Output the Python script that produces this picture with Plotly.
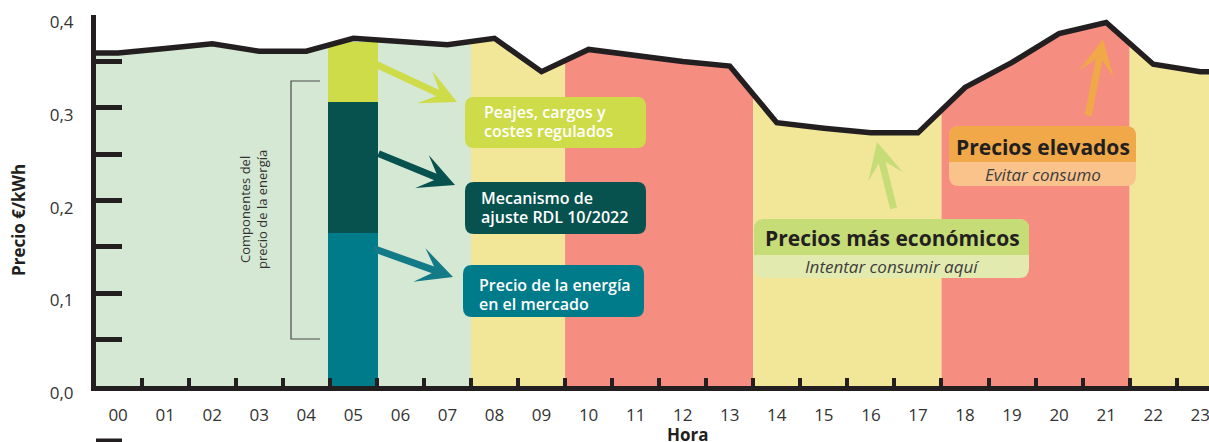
import plotly.graph_objects as go

# ---------------- data ----------------
hours = list(range(24))
hour_labels = [f"{h:02d}" for h in hours]
price = [0.359, 0.364, 0.369, 0.361, 0.361, 0.375, 0.371, 0.368,
         0.375, 0.339, 0.363, 0.356, 0.350, 0.345, 0.284, 0.278,
         0.273, 0.273, 0.322, 0.349, 0.380, 0.392, 0.347, 0.339]

# stacked components of the price at hour 05
comp_hour = 5
comp_names = ["Precio de la energía en el mercado",
              "Mecanismo de ajuste RDL 10/2022",
              "Peajes, cargos y costes regulados"]
comp_values = [0.165, 0.141, 0.065]

# price periods (hour bands)
band_edges = [-0.5, 7.5, 9.5, 13.5, 17.5, 21.5, 23.5]
band_kind = ["valle", "llano", "punta", "llano", "punta", "llano"]

y_ticks = [0.0, 0.1, 0.2, 0.3, 0.4]

# ---------------- style ----------------
W_FIG, H_FIG = 1209, 442
L, R, T, B = 96, 1209, 15, 386          # plot area in pixels
PW, PH = R - L, B - T
X_RANGE = [-0.47, 23.186]
Y_RANGE = [0, 0.4001]
INK = "#231f20"
TXT = "#333333"
FONT = "Open Sans"
band_colors = {"valle": "#d5e8d3", "llano": "#f2e698", "punta": "#f58d80"}
comp_colors = ["#007b8a", "#07524f", "#cddc48"]


def px(xp):
    return (xp - L) / PW


def py(yp):
    return (B - yp) / PH


def rrect(x0, y0, x1, y1, rtl, rtr, rbr, rbl):
    def P(a, b):
        return f"{px(a):.5f},{py(b):.5f}"
    s = f"M{P(x0 + rtl, y0)} L{P(x1 - rtr, y0)} Q{P(x1, y0)} {P(x1, y0 + rtr)} "
    s += f"L{P(x1, y1 - rbr)} Q{P(x1, y1)} {P(x1 - rbr, y1)} "
    s += f"L{P(x0 + rbl, y1)} Q{P(x0, y1)} {P(x0, y1 - rbl)} "
    s += f"L{P(x0, y0 + rtl)} Q{P(x0, y0)} {P(x0 + rtl, y0)} Z"
    return s


fig = go.Figure()

# mask above the price line (white) -> bands appear only under the line
line_x = [band_edges[0]] + hours + [band_edges[-1]]
line_y = [price[0]] + price + [price[-1]]
fig.add_trace(go.Scatter(x=[band_edges[0], band_edges[-1]], y=[Y_RANGE[1]] * 2,
                         mode="lines", line=dict(width=0), hoverinfo="skip",
                         showlegend=False))
fig.add_trace(go.Scatter(x=line_x, y=line_y, mode="lines",
                         line=dict(color=INK, width=5.5),
                         fill="tonexty", fillcolor="white",
                         showlegend=False, hoverinfo="skip"))

# stacked bar of components
for name, val, col in zip(comp_names, comp_values, comp_colors):
    fig.add_trace(go.Bar(x=[comp_hour], y=[val], name=name, width=1.06,
                         marker=dict(color=col, line=dict(width=0)),
                         showlegend=False))

shapes = []
# bands
for i, kind in enumerate(band_kind):
    shapes.append(dict(type="rect", xref="x", yref="y",
                       x0=band_edges[i], x1=band_edges[i + 1],
                       y0=0, y1=Y_RANGE[1], fillcolor=band_colors[kind],
                       line=dict(width=0), layer="below"))

# bracket
shapes.append(dict(type="path", xref="paper", yref="paper",
                   path=f"M{px(320)},{py(81)} L{px(291)},{py(81)} L{px(291)},{py(339)} L{px(320)},{py(339)}",
                   line=dict(color="#4a4a4a", width=1.2)))

# boxes for components
boxes = [
    (465, 97, 646, 148, comp_colors[2], ["Peajes, cargos y", "costes regulados"], 482, [111.5, 130.5]),
    (465, 182, 646, 234, comp_colors[1], ["Mecanismo de", "ajuste RDL 10/2022"], 479, [197.5, 216.5]),
    (463, 265, 644, 317, comp_colors[0], ["Precio de la energía", "en el mercado"], 477, [284.5, 303.5]),
]
annotations = []
for (x0, y0, x1, y1, col, lines, tx, tys) in boxes:
    shapes.append(dict(type="path", xref="paper", yref="paper",
                       path=rrect(x0, y0, x1, y1, 9, 9, 9, 9),
                       fillcolor=col, line=dict(width=0), layer="above"))
    for t, ty in zip(lines, tys):
        annotations.append(dict(xref="paper", yref="paper", x=px(tx), y=py(ty),
                                xanchor="left", yanchor="middle", text=t,
                                showarrow=False,
                                font=dict(family=FONT, size=16, color="white", weight=600)))

# two-part info boxes
info = [
    (754, 219, 1029, 255, 278, "#c6dc76", "#e3eab0",
     "Precios más económicos", "Intentar consumir aquí", 892, 237.5, 266.5),
    (949, 126, 1136, 162, 186, "#f0a848", "#fac38c",
     "Precios elevados", "Evitar consumo", 1043, 146.5, 174),
]
for (x0, y0, x1, ym, y1, c1, c2, t1, t2, cx, ty1, ty2) in info:
    shapes.append(dict(type="path", xref="paper", yref="paper",
                       path=rrect(x0, y0, x1, y1, 10, 10, 10, 10),
                       fillcolor=c2, line=dict(width=0), layer="above"))
    shapes.append(dict(type="path", xref="paper", yref="paper",
                       path=rrect(x0, y0, x1, ym, 10, 10, 0, 0),
                       fillcolor=c1, line=dict(width=0), layer="above"))
    annotations.append(dict(xref="paper", yref="paper", x=px(cx), y=py(ty1),
                            xanchor="center", yanchor="middle", text=f"<b>{t1}</b>",
                            showarrow=False, font=dict(family=FONT, size=21, color=INK)))
    annotations.append(dict(xref="paper", yref="paper", x=px(cx), y=py(ty2),
                            xanchor="center", yanchor="middle", text=f"<i>{t2}</i>",
                            showarrow=False, font=dict(family=FONT, size=17, color="#3d3d3d")))

# arrows (tail -> tip)
arrows = [
    (373, 63, 457, 102, comp_colors[2]),
    (377, 153, 455, 185, comp_colors[1]),
    (372, 248, 453, 277, "#137a88"),
    (894, 210, 877, 142, "#c6dc76"),
    (1088, 117, 1103, 39, "#f0a848"),
]
for (tx, ty, hx, hy, col) in arrows:
    annotations.append(dict(xref="paper", yref="paper", x=px(hx), y=py(hy),
                            ax=tx - hx, ay=ty - hy, axref="pixel", ayref="pixel",
                            text="", showarrow=True, arrowhead=3, arrowwidth=7,
                            arrowsize=0.85, arrowcolor=col, standoff=0))

# rotated texts and axis titles
annotations.append(dict(xref="paper", yref="paper", x=px(254), y=py(210),
                        text="Componentes del<br>precio de la energía", textangle=-90,
                        showarrow=False, xanchor="center", yanchor="middle",
                        font=dict(family=FONT, size=13, color=TXT)))
annotations.append(dict(xref="paper", yref="paper", x=px(18), y=py(220),
                        text="<b>Precio €/kWh</b>", textangle=-90, showarrow=False,
                        xanchor="center", yanchor="middle",
                        font=dict(family=FONT, size=17, color=INK)))
annotations.append(dict(xref="paper", yref="paper", x=px(688), y=py(434),
                        text="<b>Hora</b>", showarrow=False,
                        xanchor="center", yanchor="middle",
                        font=dict(family=FONT, size=17, color=INK)))

# stub of the next panel axis at the very bottom
shapes.append(dict(type="line", xref="paper", yref="paper",
                   x0=px(96), x1=px(122), y0=py(441), y1=py(441),
                   line=dict(color=INK, width=5)))

fig.update_layout(
    width=W_FIG, height=H_FIG,
    margin=dict(l=L, r=W_FIG - R, t=T, b=H_FIG - B, autoexpand=False),
    paper_bgcolor="white", plot_bgcolor="white",
    barmode="stack", bargap=0,
    separators=",.",
    shapes=shapes, annotations=annotations,
    showlegend=False,
    font=dict(family=FONT, color=TXT),
)
fig.update_xaxes(range=X_RANGE, showgrid=False, zeroline=False, automargin=False,
                 showline=True, linewidth=5, linecolor=INK,
                 tickmode="array", tickvals=hours, ticktext=hour_labels,
                 ticks="", tickfont=dict(family=FONT, size=17, color=TXT),
                 ticklabelstandoff=10, ticklabeloverflow="allow",
                 minor=dict(tickmode="array", tickvals=[h + 0.5 for h in hours],
                            ticks="inside", ticklen=8, tickwidth=4, tickcolor=INK,
                            showgrid=False))
fig.update_yaxes(range=Y_RANGE, showgrid=False, zeroline=False, automargin=False,
                 showline=True, linewidth=5, linecolor=INK,
                 tickmode="array", tickvals=y_ticks, tickformat=".1f",
                 ticks="inside", ticklen=26, tickwidth=5, tickcolor=INK,
                 tickfont=dict(family=FONT, size=17, color=TXT),
                 ticklabelstandoff=14, ticklabelshift=7, ticklabeloverflow="allow",
                 minor=dict(dtick=0.05, ticks="inside", ticklen=26, tickwidth=5,
                            tickcolor=INK, showgrid=False))

fig.write_html("out.html", config={"displayModeBar": False},
               post_script="document.body.style.margin='0';document.body.style.padding='0';")
